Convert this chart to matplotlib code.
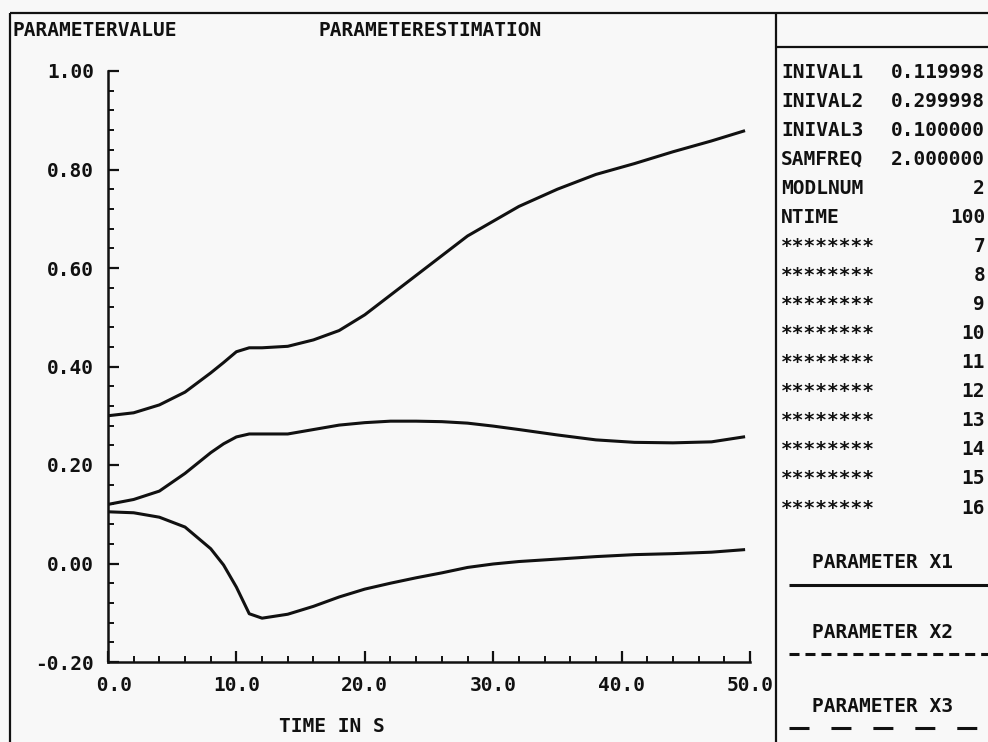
import numpy as np
import matplotlib
matplotlib.use('Agg')
import matplotlib.pyplot as plt
from matplotlib.ticker import FixedLocator, FixedFormatter

# estimated parameter traces, sampled over the run
time_s = [0, 2, 4, 6, 8, 9, 10, 11, 12, 14, 16, 18, 20, 22, 24, 26, 28, 30,
          32, 35, 38, 41, 44, 47, 49.5]
param_x1 = [0.120, 0.130, 0.147, 0.183, 0.225, 0.243, 0.257, 0.263, 0.263,
            0.263, 0.272, 0.281, 0.286, 0.289, 0.289, 0.288, 0.285, 0.279,
            0.272, 0.261, 0.251, 0.246, 0.245, 0.247, 0.257]
param_x2 = [0.300, 0.306, 0.322, 0.348, 0.387, 0.408, 0.430, 0.438, 0.438,
            0.441, 0.454, 0.473, 0.505, 0.545, 0.585, 0.625, 0.665, 0.695,
            0.725, 0.760, 0.790, 0.812, 0.836, 0.858, 0.878]
param_x3 = [0.105, 0.103, 0.094, 0.074, 0.030, -0.003, -0.048, -0.102, -0.111,
            -0.103, -0.087, -0.068, -0.052, -0.040, -0.029, -0.019, -0.008,
            -0.001, 0.004, 0.009, 0.014, 0.018, 0.020, 0.023, 0.028]

x_ticks = [0, 10, 20, 30, 40, 50]
x_tick_labels = [' 0.0', '10.0', '20.0', '30.0', '40.0', '50.0']
y_ticks = [-0.2, 0.0, 0.2, 0.4, 0.6, 0.8, 1.0]
y_tick_labels = ['-0.20', '0.00', '0.20', '0.40', '0.60', '0.80', '1.00']

# run settings listed in the side panel
info_names = ['INIVAL1', 'INIVAL2', 'INIVAL3', 'SAMFREQ', 'MODLNUM', 'NTIME'] \
    + ['********'] * 10
info_values = ['0.119998', '0.299998', '0.100000', '2.000000', '2', '100',
               '7', '8', '9', '10', '11', '12', '13', '14', '15', '16']
legend_labels = ['PARAMETER X1', 'PARAMETER X2', 'PARAMETER X3']

W, H = 988, 742
INK = '#111111'
plt.rcParams['font.family'] = ['DejaVu Sans Mono']
plt.rcParams['font.weight'] = 'bold'
plt.rcParams['font.size'] = 14
plt.rcParams['lines.scale_dashes'] = False

fig = plt.figure(figsize=(W / 100, H / 100), dpi=100, facecolor='#f8f8f8')

# overlay in pixel coordinates for the frame, headings and side panel
ov = fig.add_axes([0, 0, 1, 1])
ov.set_xlim(0, W)
ov.set_ylim(H, 0)
ov.axis('off')

frame_kw = dict(color=INK, lw=1.6, solid_capstyle='butt')
ov.plot([10, W], [13, 13], **frame_kw)
ov.plot([10, 10], [13, H], **frame_kw)
ov.plot([776, 776], [13, H], **frame_kw)
ov.plot([776, W], [47, 47], **frame_kw)

ov.text(12, 30, 'PARAMETERVALUE', ha='left', va='center', color=INK)
ov.text(318, 30, 'PARAMETERESTIMATION', ha='left', va='center', color=INK)
ov.text(332, 727, 'TIME IN S', ha='center', va='center', color=INK)

row_y = 72
for name, val in zip(info_names, info_values):
    ov.text(781, row_y, name, ha='left', va='center', color=INK)
    ov.text(985, row_y, val, ha='right', va='center', color=INK)
    row_y += 29.07

# legend entries: label with a sample line under it
legend_y = [563, 632, 706]
legend_styles = [None, (7.2, 4.3), (14.4, 15.8)]
for label, ly, dash in zip(legend_labels, legend_y, legend_styles):
    ov.text(812, ly, label, ha='left', va='center', color=INK)
    line, = ov.plot([789, W], [ly + 22, ly + 22], color=INK, lw=2.2,
                    solid_capstyle='butt', dash_capstyle='butt')
    if dash is not None:
        line.set_dashes(dash)

# main plot
ax = fig.add_axes([108 / W, 1 - 662 / H, 642 / W, 591 / H])
ax.set_facecolor('none')
ax.plot(time_s, param_x2, color=INK, lw=2.2)
ax.plot(time_s, param_x1, color=INK, lw=2.2)
ax.plot(time_s, param_x3, color=INK, lw=2.2)

ax.set_xlim(0, 50)
ax.set_ylim(-0.2, 1.0)
for side in ('top', 'right'):
    ax.spines[side].set_visible(False)
for side in ('left', 'bottom'):
    ax.spines[side].set_linewidth(1.8)
    ax.spines[side].set_color(INK)

ax.xaxis.set_major_locator(FixedLocator(x_ticks))
ax.xaxis.set_major_formatter(FixedFormatter(x_tick_labels))
ax.xaxis.set_minor_locator(FixedLocator(np.arange(0, 51, 2)))
ax.yaxis.set_major_locator(FixedLocator(y_ticks))
ax.yaxis.set_major_formatter(FixedFormatter(y_tick_labels))
ax.yaxis.set_minor_locator(FixedLocator(np.arange(-0.2, 1.001, 0.04)))

ax.tick_params(which='both', direction='in', color=INK, labelcolor=INK)
ax.tick_params(which='major', length=8, width=1.6)
ax.tick_params(which='minor', length=4, width=1.4)
ax.tick_params(axis='x', which='major', pad=10)
ax.tick_params(axis='y', which='major', pad=10)

fig.savefig('out.png', dpi=100, facecolor=fig.get_facecolor())
